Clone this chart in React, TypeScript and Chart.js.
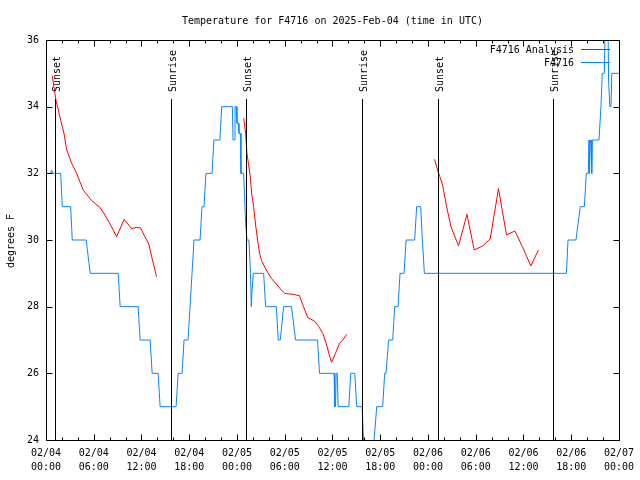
import { useEffect, useRef } from "react";
import { Chart, registerables } from "chart.js";

Chart.register(...registerables);

// ---- Data (hours since 2025-02-04 00:00 UTC) ----
const obsHours = [
  0.05, 0.6, 0.7, 0.9, 1.84, 2.05, 3.1, 3.3, 5.06, 5.2, 5.4, 5.56, 9.07, 9.32, 11.58, 11.83,
  13.09, 13.34, 14.09, 14.34, 16.35, 16.6, 17.1, 17.35, 17.85, 18.1, 18.35, 18.6, 19.36, 19.6,
  19.85, 20.1, 20.86, 21.1, 21.85, 22.08, 23.42, 23.5, 23.67, 23.75, 23.92, 24.0, 24.17, 24.25,
  24.42, 24.5, 24.84, 24.95, 25.09, 25.25, 25.5, 25.7, 25.8, 25.9, 26.05, 27.35, 27.6, 28.94,
  29.19, 29.44, 29.86, 30.86, 31.36, 34.12, 34.37, 36.2, 36.28, 36.38, 36.46, 36.6, 36.71, 38.05,
  38.3, 38.8, 39.05, 39.73, 39.98, 41.06, 41.56, 42.31, 42.56, 42.73, 43.06, 43.57, 43.82, 44.24,
  44.49, 45.0, 45.25, 46.33, 46.58, 47.08, 47.3, 47.55, 65.4, 65.6, 66.6, 67.14, 67.65, 67.9,
  68.15, 68.24, 68.3, 68.4, 68.5, 68.58, 68.66, 69.49, 69.74, 69.9, 70.16, 70.3, 70.6, 70.7,
  70.85, 71.0, 71.1, 72.0,
];
const obsTemps = [
  32, 32, 32.1, 32, 32, 31, 31, 30, 30, 29.7, 29.3, 29, 29, 28, 28, 27,
  27, 26, 26, 25, 25, 26, 26, 27, 27, 28, 29, 30, 30, 31,
  31, 32, 32, 33, 33, 34, 34, 33, 33, 34, 34, 33.5, 33.5, 33.2,
  33.2, 32, 32, 31.3, 30.5, 30, 30, 29, 28, 28.5, 29, 29, 28, 28,
  27, 27, 28, 28, 27, 27, 26, 26, 25, 25, 26, 26, 25, 25,
  26, 26, 25, 25, 23.5, 23.5, 25, 25, 26, 26, 27, 27, 28, 28,
  29, 29, 30, 30, 31, 31, 30, 29, 29, 30, 30, 31, 31, 32,
  32, 33, 32, 33, 33, 32, 33, 33, 34, 35, 35, 37, 37, 34.8,
  34, 34, 35, 35,
];

const anaHours = [
  0.79, 1.25, 1.84, 2.26, 2.6, 2.92, 3.22, 3.85, 4.26, 4.68, 5.1, 5.73, 6.15, 6.77, 7.4, 8.12,
  8.87, 9.82, 10.75, 11.38, 11.88, 12.42, 12.92, 13.33, 13.89,
  19.0,
  24.84, 25.09, 25.25, 25.43, 25.68, 25.84, 26.09, 26.34, 26.59, 26.84, 27.09, 27.68, 28.31, 28.94,
  29.57, 29.98, 31.02, 31.86, 32.36, 32.9, 33.74, 34.28, 34.78, 35.21, 35.54, 35.88, 36.38, 36.88,
  37.29, 37.79,
  43.0,
  48.83, 49.21, 49.84, 50.34, 50.89, 51.84, 52.9, 53.81, 54.86, 55.82, 56.86, 57.87, 58.92, 59.87,
  60.93, 61.88,
];
const anaTemps = [
  34.93, 34.2, 33.6, 33.2, 32.7, 32.5, 32.3, 32.0, 31.75, 31.5, 31.37, 31.18, 31.1, 30.98, 30.75, 30.45,
  30.1, 30.62, 30.34, 30.38, 30.36, 30.1, 29.88, 29.45, 28.9,
  null,
  33.65, 33.2, 32.6, 32.3, 31.9, 31.4, 31.0, 30.45, 30.0, 29.6, 29.38, 29.1, 28.85, 28.68,
  28.5, 28.4, 28.37, 28.33, 28.0, 27.67, 27.57, 27.4, 27.2, 26.9, 26.6, 26.33, 26.6, 26.9,
  27.0, 27.17,
  null,
  32.42, 32.1, 31.65, 31.0, 30.4, 29.82, 30.77, 29.7, 29.82, 30.03, 31.54, 30.15, 30.27, 29.8,
  29.22, 29.7,
];

const eventHours = [1.12, 15.77, 25.09, 39.72, 49.21, 63.76];
const eventLabels = ["Sunset", "Sunrise", "Sunset", "Sunrise", "Sunset", "Sunrise"];

const xTickDates = ["02/04", "02/04", "02/04", "02/04", "02/05", "02/05", "02/05", "02/05", "02/06", "02/06", "02/06", "02/06", "02/07"];
const xTickTimes = ["00:00", "06:00", "12:00", "18:00", "00:00", "06:00", "12:00", "18:00", "00:00", "06:00", "12:00", "18:00", "00:00"];

const titleText = "Temperature for F4716 on 2025-Feb-04 (time in UTC)";
const yAxisTitle = "degrees F";
const seriesNames = ["F4716 Analysis", "F4716"];
const seriesColors = ["#ff0000", "#0a84ff"];

const FAMILY = '"DejaVu Sans Mono", monospace';
const FONT = `10px ${FAMILY}`;

const decorPlugin = {
  id: "decor",
  afterDatasetsDraw(chart: any) {
    const { ctx, chartArea: a } = chart;
    const xs = chart.scales.x;
    const ys = chart.scales.y;
    ctx.save();
    ctx.strokeStyle = "#000";
    ctx.fillStyle = "#000";
    ctx.lineWidth = 1;
    ctx.font = FONT;

    // sunrise / sunset markers
    eventHours.forEach((h, i) => {
      const px = Math.round(xs.getPixelForValue(h)) + 0.5;
      ctx.beginPath();
      ctx.moveTo(px, a.top + 59);
      ctx.lineTo(px, a.bottom);
      ctx.stroke();
      ctx.save();
      ctx.translate(px, a.top + 52);
      ctx.rotate(-Math.PI / 2);
      ctx.textAlign = "left";
      ctx.textBaseline = "alphabetic";
      ctx.fillText(eventLabels[i], 0, 4);
      ctx.restore();
    });

    // frame
    const L = Math.round(a.left) + 0.5;
    const R = Math.round(a.right) + 0.5;
    const T = Math.round(a.top) + 0.5;
    const B = Math.round(a.bottom) + 0.5;
    ctx.beginPath();
    ctx.rect(L, T, R - L, B - T);
    ctx.stroke();

    // x ticks (inward, top & bottom)
    ctx.beginPath();
    for (let h = 0; h <= 72; h += 2) {
      const px = Math.round(xs.getPixelForValue(h)) + 0.5;
      const len = h % 6 === 0 ? 6 : 3;
      ctx.moveTo(px, B);
      ctx.lineTo(px, B - len);
      ctx.moveTo(px, T);
      ctx.lineTo(px, T + len);
    }
    // y ticks (inward, left & right)
    for (let v = 24; v <= 36; v += 2) {
      const py = Math.round(ys.getPixelForValue(v)) + 0.5;
      ctx.moveTo(L, py);
      ctx.lineTo(L + 6, py);
      ctx.moveTo(R, py);
      ctx.lineTo(R - 6, py);
    }
    ctx.stroke();

    // title
    ctx.textAlign = "center";
    ctx.textBaseline = "alphabetic";
    ctx.fillText(titleText, (a.left + a.right) / 2, 24);

    // y-axis title
    ctx.save();
    ctx.translate(14, (a.top + a.bottom) / 2 + 1);
    ctx.rotate(-Math.PI / 2);
    ctx.textAlign = "center";
    ctx.fillText(yAxisTitle, 0, 0);
    ctx.restore();

    // legend
    seriesNames.forEach((name, i) => {
      const ly = 52.5 + i * 13;
      ctx.fillStyle = "#000";
      ctx.textAlign = "right";
      ctx.fillText(name, 574, ly);
      ctx.strokeStyle = seriesColors[i];
      ctx.beginPath();
      ctx.moveTo(581, Math.round(ly - 3.5) + 0.5);
      ctx.lineTo(610, Math.round(ly - 3.5) + 0.5);
      ctx.stroke();
    });
    ctx.restore();
  },
};

export default function App() {
  const ref = useRef<HTMLCanvasElement | null>(null);

  useEffect(() => {
    if (!ref.current) return;
    Chart.defaults.font.family = FAMILY;
    Chart.defaults.font.size = 10;
    Chart.defaults.color = "#000";
    const chart = new Chart(ref.current, {
      type: "line",
      data: {
        datasets: [
          {
            label: seriesNames[0],
            data: anaHours.map((h, i) => ({ x: h, y: anaTemps[i] as any })),
            borderColor: seriesColors[0],
            borderWidth: 1,
            pointRadius: 0,
            tension: 0,
            spanGaps: false,
            clip: 0 as any,
          },
          {
            label: seriesNames[1],
            data: obsHours.map((h, i) => ({ x: h, y: obsTemps[i] })),
            borderColor: seriesColors[1],
            borderWidth: 1,
            pointRadius: 0,
            tension: 0,
            clip: 0 as any,
          },
        ],
      },
      options: {
        animation: false,
        responsive: false,
        events: [],
        layout: { padding: { top: 40, right: 20, left: 0, bottom: 0 } },
        plugins: {
          legend: { display: false },
          title: { display: false },
          tooltip: { enabled: false },
        },
        scales: {
          x: {
            type: "linear",
            min: 0,
            max: 72,
            afterFit(s: any) {
              s.height = 40;
            },
            ticks: {
              stepSize: 6,
              autoSkip: false,
              maxRotation: 0,
              minRotation: 0,
              padding: 6,
              color: "#000",
              font: { family: FAMILY, size: 10, lineHeight: 1.4 },
              callback: (_v: any, idx: number) => [xTickDates[idx], xTickTimes[idx]],
            },
            grid: { display: false, drawTicks: false },
            border: { display: false },
          },
          y: {
            min: 24,
            max: 36,
            afterFit(s: any) {
              s.width = 46;
            },
            ticks: {
              stepSize: 2,
              padding: 7,
              color: "#000",
              font: { family: FAMILY, size: 10 },
            },
            grid: { display: false, drawTicks: false },
            border: { display: false },
          },
        },
      },
      plugins: [decorPlugin],
    });
    return () => chart.destroy();
  }, []);

  return (
    <div style={{ position: "fixed", left: 0, top: 0, width: 640, height: 480, background: "#fff" }}>
      <canvas ref={ref} width={640} height={480} style={{ display: "block" }} />
    </div>
  );
}
